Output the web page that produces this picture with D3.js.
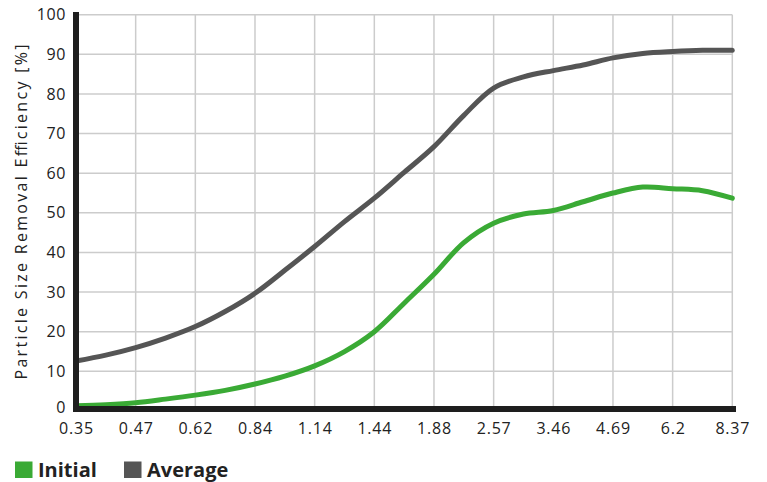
<!DOCTYPE html>
<html><head><meta charset="utf-8">
<script src="https://cdn.jsdelivr.net/npm/d3@7"></script>
<style>
html,body{margin:0;padding:0;background:#fff;}
svg{display:block;font-family:"Open Sans",sans-serif;}
</style></head>
<body><svg id="c" width="767" height="482"></svg>
<script>
// x-axis tick labels (particle size, µm)
const categories = ["0.35","0.47","0.62","0.84","1.14","1.44","1.88","2.57","3.46","4.69","6.2","8.37"];
// positions (in category index units) where values were read
const positions = [0,0.5,1,1.5,2,2.5,3,3.5,4,4.5,5,5.5,6,6.5,7,7.5,8,8.5,9,9.5,10,10.5,11];
const initialValues = [1.3,1.6,2.1,3,4,5.2,6.8,8.8,11.4,15,20,27.2,34.5,42.5,47.4,49.7,50.6,52.8,55,56.5,56.1,55.6,53.7];
const averageValues = [12.6,14.1,16,18.4,21.3,25.1,29.7,35.5,41.5,47.8,53.7,60.2,66.7,74.6,81.5,84.3,85.9,87.3,89.1,90.2,90.7,91,91];
const yTicks = [0,10,20,30,40,50,60,70,80,90,100];
const seriesNames = ["Initial","Average"];
const seriesColors = ["#3aaa35","#555555"];

const svg = d3.select("#c");
const x0 = 76, x1 = 732.3, yBottom = 411, yTop = 14.7;
const xIdx = d3.scaleLinear().domain([0, categories.length-1]).range([x0, x1]);
const xPt = d3.scalePoint().domain(categories).range([x0, x1]);
const y = d3.scaleLinear().domain([0,100]).range([yBottom, yTop]);

// grid
const g = svg.append("g");
g.selectAll("line.h").data(yTicks.slice(1)).enter().append("line")
  .attr("x1", x0).attr("x2", x1).attr("y1", d=>y(d)).attr("y2", d=>y(d))
  .attr("stroke","#cccccc").attr("stroke-width",1.5);
g.selectAll("line.v").data(categories.slice(1)).enter().append("line")
  .attr("x1", d=>xPt(d)).attr("x2", d=>xPt(d)).attr("y1", y(100)).attr("y2", yBottom)
  .attr("stroke","#cccccc").attr("stroke-width",1.5);

// y tick labels
const yAxis = d3.axisLeft(y).tickValues(yTicks).tickSize(0).tickPadding(10);
const ya = svg.append("g").attr("transform", `translate(${x0},0)`).call(yAxis);
ya.select(".domain").remove();
ya.selectAll("text").attr("font-size",16).attr("fill","#222").attr("font-family","Open Sans").style("letter-spacing","0.6px");
ya.selectAll(".tick").filter(d=>d===0).select("text").attr("y",-4);

// x tick labels
const xAxis = d3.axisBottom(xPt).tickSize(0).tickPadding(12);
const xa = svg.append("g").attr("transform", `translate(0,${yBottom})`).call(xAxis);
xa.select(".domain").remove();
xa.selectAll("text").attr("font-size",16).attr("fill","#222").attr("font-family","Open Sans").style("letter-spacing","0.8px");

// lines
const line = d3.line().x(d=>xIdx(d[0])).y(d=>y(d[1])).curve(d3.curveCatmullRom.alpha(0.5));
const seriesData = [initialValues, averageValues];
seriesData.forEach((vals,i)=>{
  svg.append("path").datum(positions.map((p,j)=>[p, vals[j]]))
    .attr("d", line).attr("fill","none").attr("stroke", seriesColors[i])
    .attr("stroke-width",5).attr("stroke-linecap","round").attr("stroke-linejoin","round");
});

// axis bars
svg.append("line").attr("x1",76).attr("x2",76).attr("y1",12).attr("y2",412).attr("stroke","#1e1e1e").attr("stroke-width",6);
svg.append("line").attr("x1",73).attr("x2",736).attr("y1",409).attr("y2",409).attr("stroke","#1e1e1e").attr("stroke-width",6);

// y title
svg.append("text").attr("transform","translate(27,212) rotate(-90)")
  .attr("text-anchor","middle").attr("font-size",16).attr("fill","#222")
  .attr("textLength",335).attr("lengthAdjust","spacing")
  .text("Particle Size Removal Efficiency [%]");

// legend
const legX = [15, 124];
seriesNames.forEach((n,i)=>{
  svg.append("rect").attr("x",legX[i]).attr("y",461.5).attr("width",17.5).attr("height",16.5).attr("fill",seriesColors[i]);
  svg.append("text").attr("x",legX[i]+23).attr("y",477).attr("font-size",20).attr("font-weight","bold")
    .attr("fill","#222").text(n);
});
</script></body></html>
